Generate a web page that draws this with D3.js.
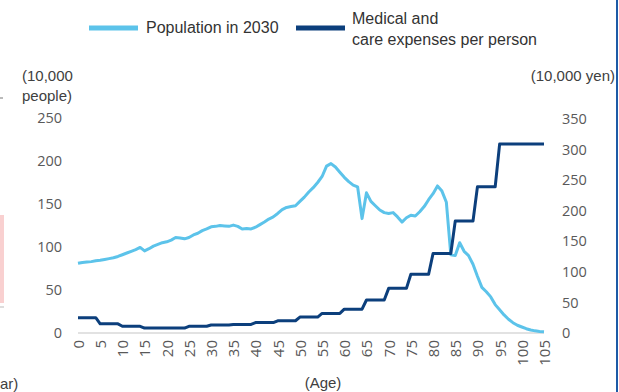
<!DOCTYPE html>
<html>
<head>
<meta charset="utf-8">
<script src="https://cdn.jsdelivr.net/npm/d3@7"></script>
<style>
  html, body { margin: 0; padding: 0; background: #ffffff; }
  svg { display: block; }
</style>
</head>
<body>
<svg id="chart" width="619" height="392"></svg>
<script>
// Ages 0..105 (one point per year of age)
const ages = d3.range(0, 106);

// Projected population in 2030 by single year of age (10,000 people)
const population2030 = [
  81, 82, 82.5, 83, 84, 84.5, 85.5, 86.5, 87.5, 89,
  91, 93, 95, 97, 99.5, 95.5, 98, 101, 103, 105,
  106, 108, 111, 110.5, 109.5, 111, 114, 116, 119, 121,
  123.5, 124, 125, 124.5, 124, 125.5, 124, 121, 121.5, 121,
  123, 126, 129, 132.5, 135, 139, 143.5, 146, 147, 148,
  153, 158, 164, 169, 175, 182, 194, 197, 193, 187,
  181, 176, 172, 170, 133, 163, 153, 148, 143, 140,
  139, 140, 135, 129, 134, 137, 136, 141, 147, 155,
  162, 171, 165, 152, 91, 90, 105, 95, 90, 80,
  66, 53, 48, 42, 33, 27, 21, 16, 12, 9,
  7, 5, 3.5, 2.5, 1.8, 1.5
];

// Medical and care expenses per person by 5-year age group (10,000 yen)
const groupStarts = [0, 5, 10, 15, 20, 25, 30, 35, 40, 45, 50, 55, 60, 65, 70, 75, 80, 85, 90, 95];
const groupExpenses = [25, 15, 11, 8, 8, 11, 13, 14, 17, 20, 26, 32, 39, 54, 73, 96, 130, 183, 239, 309];

// Each age takes the value of the group it belongs to
const expensesPerPerson = ages.map(a => groupExpenses[d3.bisectRight(groupStarts, a) - 1]);

const leftTicks = [0, 50, 100, 150, 200, 250];
const rightTicks = [0, 50, 100, 150, 200, 250, 300, 350];
const ageTicks = d3.range(0, 106, 5);

const popColor = "#5cc3ea";
const costColor = "#0c3f7c";
const tickColor = "#595959";
const textColor = "#404040";

const svg = d3.select("#chart");

const x = d3.scalePoint().domain(ages).range([78, 544]);
const yL = d3.scaleLinear().domain([0, 250]).range([333, 118]);
const yR = d3.scaleLinear().domain([0, 350]).range([333, 119]);

// Neighbouring panel edge pieces
svg.append("rect").attr("x", 0).attr("y", 215).attr("width", 4).attr("height", 88)
  .attr("fill", "#f9d0d0");
svg.append("line").attr("x1", 0).attr("x2", 3).attr("y1", 98).attr("y2", 98)
  .attr("stroke", "#777").attr("stroke-width", 1);
svg.append("line").attr("x1", 0).attr("x2", 4).attr("y1", 307).attr("y2", 307)
  .attr("stroke", "#bbb").attr("stroke-width", 1);
svg.append("text").attr("x", 0).attr("y", 389)
  .attr("font-family", "Liberation Sans, Arial, sans-serif").attr("font-size", 15)
  .attr("fill", textColor).text("ar)");

// Right frame border
svg.append("line").attr("x1", 617).attr("x2", 617).attr("y1", 0).attr("y2", 392)
  .attr("stroke", "#1d5aa6").attr("stroke-width", 2);

// Baseline
svg.append("line").attr("x1", x(0)).attr("x2", x(105))
  .attr("y1", yL(0)).attr("y2", yL(0))
  .attr("stroke", "#d9d9d9").attr("stroke-width", 1.5);

// Left axis
const gL = svg.append("g").attr("transform", "translate(65,0)")
  .call(d3.axisLeft(yL).tickValues(leftTicks).tickSize(0).tickPadding(3));
gL.select(".domain").remove();
gL.selectAll("text").attr("font-family", "Open Sans, Noto Sans, sans-serif")
  .attr("font-size", 14.5).attr("fill", tickColor);

// Right axis
const gR = svg.append("g").attr("transform", "translate(559,0)")
  .call(d3.axisRight(yR).tickValues(rightTicks).tickSize(0).tickPadding(3));
gR.select(".domain").remove();
gR.selectAll("text").attr("font-family", "Open Sans, Noto Sans, sans-serif")
  .attr("font-size", 14.5).attr("fill", tickColor);

// Bottom axis with vertical labels
const gB = svg.append("g").attr("transform", `translate(0,${yL(0)})`)
  .call(d3.axisBottom(x).tickValues(ageTicks).tickSize(0));
gB.select(".domain").remove();
gB.selectAll("text")
  .attr("font-family", "Open Sans, Noto Sans, sans-serif")
  .attr("font-size", 15).attr("fill", tickColor)
  .attr("transform", "rotate(-90)")
  .attr("text-anchor", "end")
  .attr("x", -7).attr("y", 0).attr("dy", "0.36em");

// Lines
const popLine = d3.line().x((d, i) => x(ages[i])).y(d => yL(d));
const costLine = d3.line().x((d, i) => x(ages[i])).y(d => yR(d));

svg.append("path").datum(population2030)
  .attr("d", popLine).attr("fill", "none")
  .attr("stroke", popColor).attr("stroke-width", 3).attr("stroke-linejoin", "round");

svg.append("path").datum(expensesPerPerson)
  .attr("d", costLine).attr("fill", "none")
  .attr("stroke", costColor).attr("stroke-width", 3).attr("stroke-linejoin", "round");

// Axis unit labels
const labelFont = "Liberation Sans, Arial, sans-serif";
svg.append("text").attr("x", 22).attr("y", 81).attr("font-family", labelFont)
  .attr("font-size", 15).attr("fill", textColor).text("(10,000");
svg.append("text").attr("x", 22).attr("y", 101).attr("font-family", labelFont)
  .attr("font-size", 15).attr("fill", textColor).text("people)");
svg.append("text").attr("x", 615).attr("y", 81).attr("text-anchor", "end")
  .attr("font-family", labelFont).attr("font-size", 15).attr("fill", textColor).text("(10,000 yen)");
svg.append("text").attr("x", 323).attr("y", 388).attr("text-anchor", "middle")
  .attr("font-family", labelFont).attr("font-size", 15).attr("fill", textColor).text("(Age)");

// Legend
const legend = svg.append("g");
legend.append("line").attr("x1", 89).attr("x2", 138).attr("y1", 28).attr("y2", 28)
  .attr("stroke", popColor).attr("stroke-width", 5);
legend.append("text").attr("x", 146).attr("y", 33).attr("font-family", labelFont)
  .attr("font-size", 16).attr("fill", "#333").text("Population in 2030");
legend.append("line").attr("x1", 296).attr("x2", 345).attr("y1", 28).attr("y2", 28)
  .attr("stroke", costColor).attr("stroke-width", 5);
legend.append("text").attr("x", 352).attr("y", 24).attr("font-family", labelFont)
  .attr("font-size", 16).attr("fill", "#333").text("Medical and");
legend.append("text").attr("x", 352).attr("y", 45).attr("font-family", labelFont)
  .attr("font-size", 16).attr("fill", "#333").text("care expenses per person");
</script>
</body>
</html>
